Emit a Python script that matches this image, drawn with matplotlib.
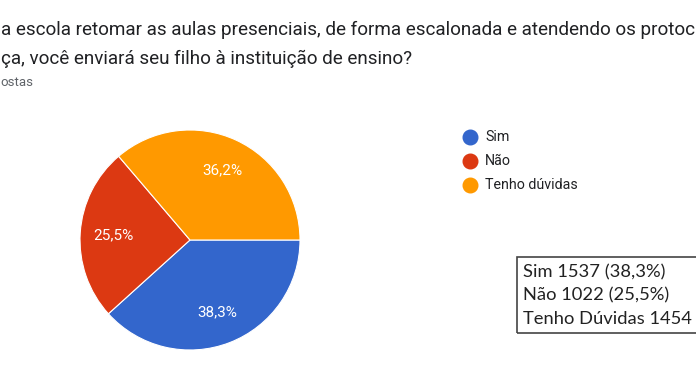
import matplotlib
matplotlib.use("Agg")
import matplotlib.pyplot as plt
from matplotlib.patches import Rectangle

categories = ["Sim", "Não", "Tenho dúvidas"]
values = [1537, 1022, 1454]
box_labels = ["Sim", "Não", "Tenho Dúvidas"]
colors = ["#3366CC", "#DC3912", "#FF9900"]

title_lines = ["a escola retomar as aulas presenciais, de forma escalonada e atendendo os protoc",
               "ça, você enviará seu filho à instituição de ensino?"]
subtitle = "ostas"

W, H = 696, 385
fig = plt.figure(figsize=(W / 100, H / 100), dpi=100)
fig.patch.set_facecolor("white")

def fx(px):
    return px / W

def fy(py):
    return 1 - py / H

# Title
fig.text(fx(1), fy(30), title_lines[0], fontsize=13.6, family="Roboto", color="#202124", va="center", ha="left")
fig.text(fx(1), fy(59), title_lines[1], fontsize=13.6, family="Roboto", color="#202124", va="center", ha="left")
fig.text(fx(0), fy(83), subtitle, fontsize=9.5, family="Roboto", color="#5f6368", va="center", ha="left")

# Pie
ax = fig.add_axes([fx(80), fy(350), fx(300) - fx(80), fy(130) - fy(350)])
total = sum(values)
wedges, texts, autotexts = ax.pie(values, colors=colors, startangle=0, counterclock=False,
                                  autopct=lambda p: f"{p:.1f}%".replace(".", ","),
                                  pctdistance=0.7, radius=1,
                                  wedgeprops=dict(edgecolor="white", linewidth=0.8),
                                  textprops=dict(color="white", fontsize=11, family="Roboto"))
ax.set_xlim(-1, 1)
ax.set_ylim(-1, 1)
ax.set_aspect("equal")
ax.axis("off")

# Legend
for i, (cat, col) in enumerate(zip(categories, colors)):
    y = 137 + i * 24
    fig.text(fx(485), fy(y), cat, fontsize=10.3, family="Roboto", color="#202124", va="center", ha="left")
    fig.lines.append(plt.Line2D([fx(470)], [fy(y)], marker="o", markersize=10.5, color=col,
                                transform=fig.transFigure, figure=fig))

# Text box
rect = Rectangle((fx(517), fy(333)), fx(760) - fx(517), fy(257) - fy(333), transform=fig.transFigure,
                 fill=False, edgecolor="#444444", linewidth=1.2, figure=fig)
fig.patches.append(rect)
for i, (lab, v) in enumerate(zip(box_labels, values)):
    pct = f"{100 * v / total:.1f}".replace(".", ",")
    fig.text(fx(523), fy(272 + i * 23.5), f"{lab} {v} ({pct}%)", fontsize=13.2, family="Lato",
             color="#222222", va="center", ha="left")

fig.savefig("out.png", dpi=100, facecolor="white")
